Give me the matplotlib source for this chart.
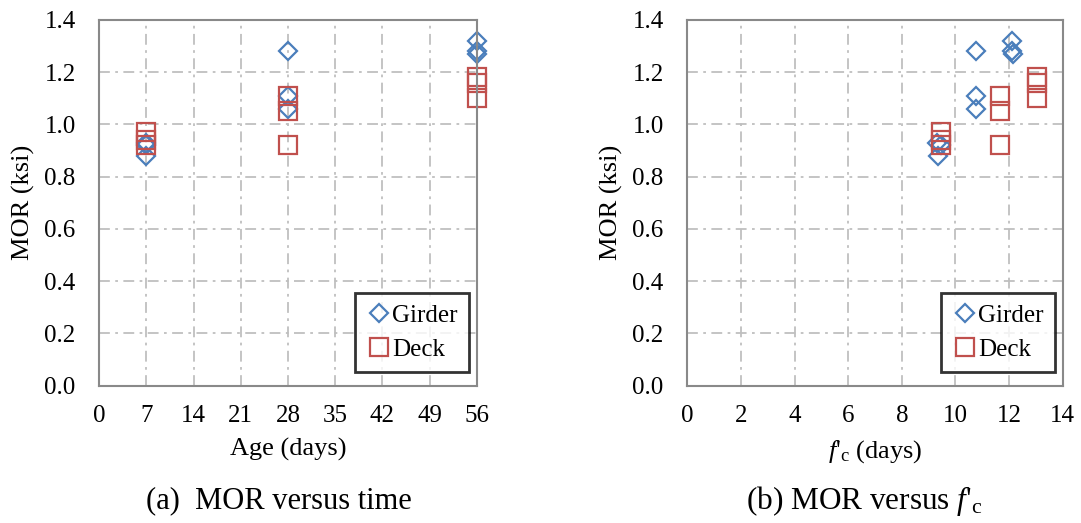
import matplotlib.pyplot as plt

plt.rcParams['font.family'] = ['Liberation Serif', 'DejaVu Serif']
plt.rcParams['mathtext.fontset'] = 'custom'
plt.rcParams['mathtext.rm'] = 'Liberation Serif'
plt.rcParams['mathtext.it'] = 'Liberation Serif:italic'

# data
girder_age = [7, 7, 7, 28, 28, 28, 56, 56, 56]
girder_mor = [0.88, 0.93, 0.92, 1.28, 1.11, 1.06, 1.32, 1.28, 1.27]
girder_fc = [9.35, 9.3, 9.45, 10.75, 10.75, 10.75, 12.1, 12.1, 12.15]

deck_age = [7, 7, 7, 28, 28, 28, 56, 56, 56]
deck_mor = [0.97, 0.94, 0.92, 1.11, 1.05, 0.92, 1.18, 1.16, 1.10]
deck_fc = [9.45, 9.45, 9.45, 11.67, 11.67, 11.67, 13.05, 13.05, 13.05]

age_ticks = [0, 7, 14, 21, 28, 35, 42, 49, 56]
fc_ticks = [0, 2, 4, 6, 8, 10, 12, 14]
mor_ticks = [0.0, 0.2, 0.4, 0.6, 0.8, 1.0, 1.2, 1.4]

blue = '#4a7ebb'
red = '#c0504d'

fig = plt.figure(figsize=(10.81, 5.23), dpi=100)
ax1 = fig.add_axes([99.3/1081, 1-385.7/523, 377.4/1081, 365.7/523])
ax2 = fig.add_axes([687.3/1081, 1-385.7/523, 375.4/1081, 365.7/523])


def style(ax, xticks, xlabel):
    ax.set_xlim(xticks[0], xticks[-1])
    ax.set_ylim(0, 1.4)
    ax.set_xticks(xticks)
    ax.set_yticks(mor_ticks)
    ax.set_yticklabels(['%.1f' % v for v in mor_ticks])
    ax.grid(True, color='#bfbfbf', linestyle='-.', linewidth=1.3, dashes=(6, 3, 1.5, 3))
    ax.set_axisbelow(True)
    for s in ax.spines.values():
        s.set_color('#898989')
        s.set_linewidth(1.5)
    ax.tick_params(length=0, labelsize=18)
    ax.tick_params(axis='x', pad=14)
    ax.tick_params(axis='y', pad=17)
    ax.set_xlabel(xlabel, fontsize=19, labelpad=8)
    ax.set_ylabel('MOR (ksi)', fontsize=19, labelpad=7)


for ax, gx, dx in [(ax1, girder_age, deck_age), (ax2, girder_fc, deck_fc)]:
    ax.plot(gx, girder_mor, linestyle='none', marker='D', markersize=9.5,
            markerfacecolor='none', markeredgecolor=blue, markeredgewidth=1.6,
            label='Girder', clip_on=False)
    ax.plot(dx, deck_mor, linestyle='none', marker='s', markersize=13.5,
            markerfacecolor='none', markeredgecolor=red, markeredgewidth=1.6,
            label='Deck', clip_on=False)
    leg = ax.legend(loc='lower right', bbox_to_anchor=(0.98, 0.038), fontsize=18,
                    frameon=True, fancybox=False, borderpad=0.45, handletextpad=0.05,
                    handlelength=1.0, labelspacing=0.45, borderaxespad=0)
    leg.get_frame().set_edgecolor('black')
    leg.get_frame().set_linewidth(2)

style(ax1, age_ticks, 'Age (days)')
style(ax2, fc_ticks, "$f$'$_\\mathrm{c}$ (days)")

fig.text(279/1081, 1-501/523, '(a)  MOR versus time', fontsize=22, ha='center', va='center')
fig.text(864/1081, 1-501/523, "(b) MOR versus $f$'$_\\mathrm{c}$", fontsize=22.5, ha='center', va='center')

fig.savefig('out.png', dpi=100)
